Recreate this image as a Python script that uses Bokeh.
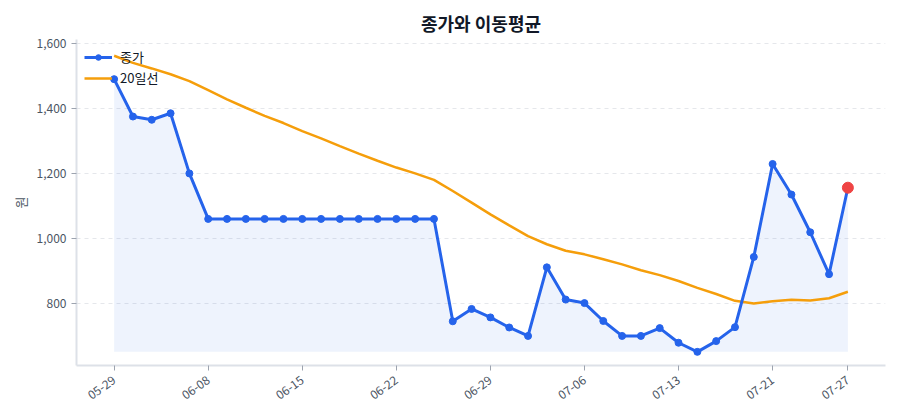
from bokeh.plotting import figure
from bokeh.layouts import column, row
from bokeh.models import ColumnDataSource, FixedTicker, NumeralTickFormatter, Range1d, Legend, LegendItem, Spacer
from bokeh.embed import file_html
from bokeh.resources import INLINE

FONT = "Noto Sans CJK KR"

dates = [
    "05-29", "05-30", "06-02", "06-04", "06-05", "06-08", "06-09", "06-10", "06-11", "06-12",
    "06-15", "06-16", "06-17", "06-18", "06-19", "06-22", "06-23", "06-24", "06-25", "06-26",
    "06-29", "06-30", "07-01", "07-02", "07-03", "07-06", "07-07", "07-08", "07-09", "07-10",
    "07-13", "07-14", "07-15", "07-16", "07-17", "07-21", "07-22", "07-23", "07-24", "07-27",
]
close = [
    1490, 1375, 1365, 1385, 1200, 1060, 1060, 1060, 1060, 1060,
    1060, 1060, 1060, 1060, 1060, 1060, 1060, 1060, 745, 783,
    757, 726, 700, 911, 812, 801, 746, 700, 700, 724,
    679, 651, 684, 727, 943, 1229, 1135, 1019, 890, 1156,
]
ma20 = [
    1562, 1540, 1523, 1505, 1484, 1456, 1428, 1402, 1377, 1355,
    1330, 1308, 1284, 1261, 1239, 1218, 1200, 1180, 1146, 1110,
    1074, 1040, 1007, 982, 962, 951, 936, 920, 902, 887,
    869, 848, 829, 808, 800, 807, 811, 809, 816, 836,
]
tick_idx = [0, 5, 10, 15, 20, 25, 30, 35, 39]
y_ticks = [800, 1000, 1200, 1400, 1600]

x = list(range(len(dates)))
src = ColumnDataSource(data=dict(x=x, close=close, ma20=ma20, base=[min(close)] * len(x)))
last = ColumnDataSource(data=dict(x=[x[-1]], close=[close[-1]]))

p = figure(
    frame_width=809, frame_height=326,
    x_range=Range1d(-2, 41), y_range=Range1d(609, 1612),
    output_backend="svg", toolbar_location=None,
    min_border_right=7,
    title="종가와 이동평균",
)
p.outline_line_color = None
p.background_fill_color = "white"

p.title.align = "center"
p.title.text_font = FONT
p.title.text_font_size = "18px"
p.title.text_font_style = "bold"
p.title.text_color = "#111827"
p.title.standoff = 8

# area under close, down to the lowest close
p.varea(x="x", y1="base", y2="close", source=src, fill_color="#2563eb", fill_alpha=0.08)

ma_line = p.line(x="x", y="ma20", source=src, line_color="#f59e0b", line_width=2.5)
c_line = p.line(x="x", y="close", source=src, line_color="#2563eb", line_width=3)
c_dots = p.scatter(x="x", y="close", source=src, size=7, fill_color="#2563eb", line_color="#2563eb")
p.scatter(x="x", y="close", source=last, size=11, fill_color="#ef4444", line_color="#ef4444")

legend = Legend(items=[
    LegendItem(label="종가", renderers=[c_line, c_dots]),
    LegendItem(label="20일선", renderers=[ma_line]),
], location="top_left")
legend.background_fill_alpha = 0
legend.border_line_color = None
legend.label_text_font = FONT
legend.label_text_font_size = "13px"
legend.label_text_color = "#111827"
legend.glyph_width = 28
legend.glyph_height = 14
legend.label_height = 16
legend.spacing = 2
legend.margin = 8
legend.padding = 6
legend.label_standoff = 8
p.add_layout(legend)

p.xgrid.visible = False
p.ygrid.grid_line_color = "#e5e7eb"
p.ygrid.grid_line_dash = "4 4"
p.ygrid.ticker = FixedTicker(ticks=y_ticks)

for ax in (p.xaxis, p.yaxis):
    ax.axis_line_color = "#dde1e8"
    ax.axis_line_width = 2
    ax.major_tick_line_color = "#9ca3af"
    ax.major_tick_in = 0
    ax.major_tick_out = 5
    ax.minor_tick_line_color = None
    ax.major_label_text_font = FONT
    ax.major_label_text_font_size = "12px"
    ax.major_label_text_color = "#4b5563"

p.xaxis.ticker = FixedTicker(ticks=tick_idx)
p.xaxis.major_label_overrides = {i: dates[i] for i in tick_idx}
p.xaxis.major_label_orientation = 0.62
p.xaxis.major_label_standoff = 8

p.yaxis.ticker = FixedTicker(ticks=y_ticks)
p.yaxis.formatter = NumeralTickFormatter(format="0,0")
p.yaxis.axis_label = "원"
p.yaxis.axis_label_text_font = FONT
p.yaxis.axis_label_text_font_size = "13px"
p.yaxis.axis_label_text_font_style = "normal"
p.yaxis.axis_label_text_color = "#4b5563"
p.yaxis.axis_label_standoff = 4

page = column(Spacer(height=3), row(Spacer(width=7), p))

open("out.html", "w").write(file_html(page, INLINE))
